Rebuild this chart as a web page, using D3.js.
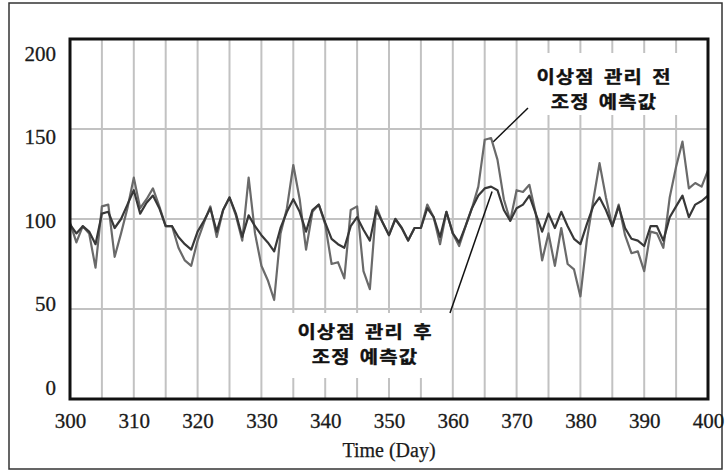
<!DOCTYPE html>
<html>
<head>
<meta charset="utf-8">
<script src="https://cdn.jsdelivr.net/npm/d3@7/dist/d3.min.js"></script>
<style>
  html, body { margin: 0; padding: 0; background: #fff; }
  svg { display: block; }
</style>
</head>
<body>
<svg id="chart" width="728" height="472"></svg>
<script>
// Days 300..400
const days = d3.range(300, 401);

// Adjusted forecast before outlier handling
const beforeValues = [
  98, 87, 96, 92, 73, 107, 108, 79, 92, 106,
  123, 106, 111, 117, 107, 96, 96, 84, 77, 74,
  88, 98, 107, 90, 105, 112, 102, 88, 123, 92,
  74, 66, 55, 92, 106, 130, 111, 83, 104, 108,
  97, 75, 76, 67, 105, 107, 71, 61, 107, 98,
  91, 100, 95, 88, 95, 95, 108, 101, 86, 104,
  92, 85, 96, 106, 118, 144, 145, 133, 111, 99,
  116, 115, 119, 103, 77, 92, 74, 95, 75, 72,
  57, 88, 110, 131, 112, 96, 108, 91, 81, 82,
  71, 93, 92, 84, 112, 129, 143, 117, 120, 118,
  127
];

// Adjusted forecast after outlier handling
const afterValues = [
  97, 92, 96, 93, 86, 103, 104, 95, 100, 108,
  116, 103, 109, 113, 106, 96, 96, 90, 86, 83,
  93, 99, 106, 93, 105, 112, 103, 90, 102, 96,
  91, 87, 82, 95, 104, 111, 104, 93, 105, 108,
  98, 89, 86, 84, 96, 101, 94, 88, 105, 98,
  91, 100, 95, 88, 95, 95, 106, 101, 90, 104,
  92, 87, 96, 106, 113, 117, 118, 116, 105, 99,
  106, 108, 113, 103, 93, 103, 95, 104, 96, 89,
  86, 97, 107, 112, 105, 96, 107, 95, 89, 88,
  85, 96, 96, 88, 101, 107, 113, 101, 108, 110,
  113
];

const xTicks = [300, 310, 320, 330, 340, 350, 360, 370, 380, 390, 400];
const yTicks = [0, 50, 100, 150, 200];
const xGrid = d3.range(305, 400, 5);
const yGrid = [50, 100, 150];

const labelBefore = ["이상점 관리 전", "조정 예측값"];
const labelAfter = ["이상점 관리 후", "조정 예측값"];
const xTitle = "Time (Day)";

const svg = d3.select("#chart");
const W = 728, H = 472;
const plot = { left: 70, right: 708, top: 39, bottom: 399 };

const x = d3.scaleLinear().domain([300, 400]).range([plot.left, plot.right]);
const y = d3.scaleLinear().domain([0, 200]).range([plot.bottom, plot.top]);
// tick labels sit on an evenly spread, slightly inset scale
const yLab = d3.scaleLinear().domain([0, 200]).range([387, 53]);

svg.append("rect").attr("width", W).attr("height", H).attr("fill", "#fff");

// outer frame
svg.append("rect")
  .attr("x", 9).attr("y", 3).attr("width", 713).attr("height", 466)
  .attr("fill", "none").attr("stroke", "#333").attr("stroke-width", 1.5);

// grid
const grid = svg.append("g").attr("stroke", "#c2c2c2").attr("stroke-width", 2);
grid.selectAll("line.v").data(xGrid).join("line")
  .attr("class", "v")
  .attr("x1", d => x(d)).attr("x2", d => x(d))
  .attr("y1", plot.top).attr("y2", plot.bottom);
grid.selectAll("line.h").data(yGrid).join("line")
  .attr("class", "h")
  .attr("x1", plot.left).attr("x2", plot.right)
  .attr("y1", d => y(d)).attr("y2", d => y(d));

// annotations with white backing; glyphs widened a little
const noteFont = "'Noto Sans CJK KR', 'Noto Sans', sans-serif";
function note(lines, cx, baseline, box) {
  const g = svg.append("g");
  g.append("rect")
    .attr("x", box[0]).attr("y", box[1])
    .attr("width", box[2]).attr("height", box[3])
    .attr("fill", "#fff");
  lines.forEach((t, i) => {
    g.append("g")
      .attr("transform", `translate(${cx}, ${baseline + i * 25}) scale(1.17, 1)`)
      .append("text")
      .attr("x", 0).attr("y", 0)
      .attr("text-anchor", "middle")
      .attr("font-family", noteFont)
      .attr("font-weight", 700)
      .attr("font-size", 17)
      .attr("letter-spacing", 1)
      .attr("word-spacing", 3)
      .attr("fill", "#111")
      .attr("stroke", "#111").attr("stroke-width", 0.4)
      .text(t);
  });
}
note(labelBefore, 604, 83, [522, 53, 168, 62]);
note(labelAfter, 365, 338, [280, 313, 168, 65]);

// leader lines to the peak at day 366
const peakDay = 366;
const iPeak = days.indexOf(peakDay);
svg.append("line")
  .attr("x1", 528).attr("y1", 108)
  .attr("x2", x(peakDay) + 2).attr("y2", y(beforeValues[iPeak]) + 4)
  .attr("stroke", "#111").attr("stroke-width", 1.5);
svg.append("line")
  .attr("x1", 450).attr("y1", 313)
  .attr("x2", x(peakDay) + 1).attr("y2", y(afterValues[iPeak]) + 5)
  .attr("stroke", "#111").attr("stroke-width", 1.5);

// series
const line = d3.line().x((d, i) => x(days[i])).y(d => y(d));
svg.append("path").datum(beforeValues)
  .attr("d", line).attr("fill", "none")
  .attr("stroke", "#6a6a6a").attr("stroke-width", 2.2).attr("stroke-linejoin", "round");
svg.append("path").datum(afterValues)
  .attr("d", line).attr("fill", "none")
  .attr("stroke", "#383838").attr("stroke-width", 2.2).attr("stroke-linejoin", "round");

// plot frame
svg.append("rect")
  .attr("x", plot.left).attr("y", plot.top)
  .attr("width", plot.right - plot.left).attr("height", plot.bottom - plot.top)
  .attr("fill", "none").attr("stroke", "#111").attr("stroke-width", 3);

// axes
const serif = "'Liberation Serif', 'Times New Roman', serif";
const xAxis = svg.append("g")
  .attr("transform", `translate(0, 428)`)
  .call(d3.axisBottom(x).tickValues(xTicks).tickSize(0).tickPadding(0).tickFormat(d3.format("d")));
xAxis.select(".domain").remove();
xAxis.selectAll("text")
  .attr("dy", 0).attr("y", 0)
  .attr("font-family", serif).attr("font-size", 21).attr("fill", "#1a1a1a")
  .attr("stroke", "#1a1a1a").attr("stroke-width", 0.3);

const yAxis = svg.append("g")
  .attr("transform", `translate(56, 0)`)
  .call(d3.axisLeft(yLab).tickValues(yTicks).tickSize(0).tickPadding(0).tickFormat(d3.format("d")));
yAxis.select(".domain").remove();
yAxis.selectAll("text")
  .attr("dy", "0.35em").attr("x", 0)
  .attr("font-family", serif).attr("font-size", 21).attr("fill", "#1a1a1a")
  .attr("stroke", "#1a1a1a").attr("stroke-width", 0.3);

svg.append("text")
  .attr("x", 389).attr("y", 457)
  .attr("text-anchor", "middle")
  .attr("font-family", serif).attr("font-size", 20).attr("fill", "#1a1a1a")
  .attr("stroke", "#1a1a1a").attr("stroke-width", 0.25)
  .text(xTitle);
</script>
</body>
</html>
